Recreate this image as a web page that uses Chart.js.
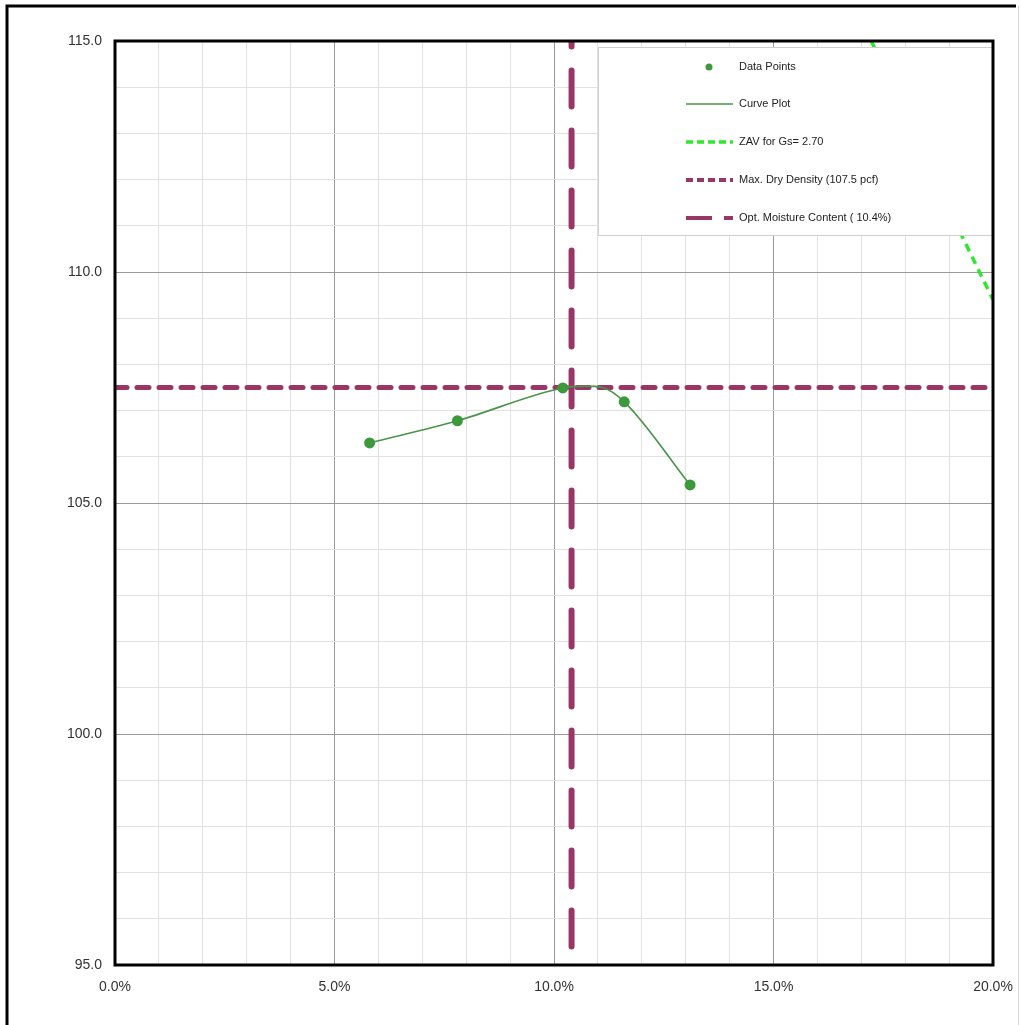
<!DOCTYPE html>
<html>
<head>
<meta charset="utf-8">
<script src="https://cdn.jsdelivr.net/npm/chart.js@4.4.1/dist/chart.umd.min.js"></script>
<style>
  html, body { margin: 0; padding: 0; background: #fff; }
  #wrap { width: 1021px; height: 1025px; position: relative; }
</style>
</head>
<body>
<div id="wrap"><canvas id="proctor"></canvas></div>
<script>
/* ─── Werte ─── */
const moisture = [5.8, 7.8, 10.2, 11.6, 13.1];
const dryDensity = [106.3, 106.78, 107.49, 107.19, 105.39];

const curveMoisture = [5.8, 7.8, 10.2, 10.7, 11.1, 11.6, 13.1];
const curveDensity = [106.3, 106.78, 107.49, 107.53, 107.5, 107.19, 105.39];

const zavMoisture = [17.23, 17.5, 18, 19, 20];
const zavDensity = [115, 114.42, 113.38, 111.35, 109.4];

const maxDryMoisture = [0, 20];
const maxDryDensity = [107.5, 107.5];

const optMoisture = [10.4, 10.4];
const optDensity = [95.4, 115];

const xTicks = [0, 5, 10, 15, 20];
const yTicks = [95, 100, 105, 110, 115];

const legendLabels = [
  'Data Points',
  'Curve Plot',
  'ZAV for Gs= 2.70',
  'Max. Dry Density (107.5 pcf)',
  'Opt. Moisture Content ( 10.4%)',
];

const MAROON = '#9a3666';
const toXY = (xs, ys) => xs.map((x, i) => ({ x, y: ys[i] }));

/* ─── Legende im Plotbereich + Rahmen ─── */
const frameLegend = {
  id: 'frameLegend',
  afterDatasetsDraw(chart) {
    const { ctx, chartArea: a } = chart;
    const bx = 598, by = a.top + 6, bw = a.right - 598, bh = 188;
    ctx.save();
    ctx.fillStyle = '#fff';
    ctx.fillRect(bx, by, bw, bh);
    ctx.strokeStyle = '#cfcfcf';
    ctx.lineWidth = 1;
    ctx.strokeRect(bx + 0.5, by + 0.5, bw, bh);

    const rows = [67, 104, 142, 180, 218];
    const x0 = 686, x1 = 733;
    ctx.lineCap = 'butt';
    chart.data.datasets.forEach((ds, i) => {
      const y = rows[i];
      ctx.setLineDash([]);
      if (i === 0) {
        ctx.fillStyle = ds.backgroundColor;
        ctx.beginPath(); ctx.arc(709, y, 3.5, 0, Math.PI * 2); ctx.fill();
      } else {
        ctx.strokeStyle = ds.borderColor;
        ctx.lineWidth = Math.min(ds.borderWidth, 4);
        if (i === 2 || i === 3) ctx.setLineDash([7, 4]);
        ctx.beginPath();
        if (i === 4) {
          ctx.moveTo(x0, y); ctx.lineTo(712, y);
          ctx.moveTo(724, y); ctx.lineTo(x1, y);
        } else {
          ctx.moveTo(x0, y); ctx.lineTo(x1, y);
        }
        ctx.stroke();
      }
      ctx.setLineDash([]);
      ctx.fillStyle = '#222';
      ctx.font = '11px "Liberation Sans", Arial, sans-serif';
      ctx.textBaseline = 'middle';
      ctx.textAlign = 'left';
      ctx.fillText(ds.label, 739, y);
    });
    ctx.restore();
  },
  afterDraw(chart) {
    const { ctx, chartArea: a } = chart;
    ctx.save();
    ctx.strokeStyle = '#000';
    ctx.lineWidth = 3;
    ctx.strokeRect(a.left, a.top, a.right - a.left, a.bottom - a.top);
    // äußerer Rahmen
    ctx.beginPath();
    ctx.moveTo(7, 1025); ctx.lineTo(7, 6); ctx.lineTo(1016, 6);
    ctx.stroke();
    ctx.strokeStyle = '#d8d8d8';
    ctx.lineWidth = 1;
    ctx.beginPath(); ctx.moveTo(1018.5, 6); ctx.lineTo(1018.5, 1025); ctx.stroke();
    ctx.restore();
  },
};

const tickFont = { family: '"Liberation Sans", Arial, sans-serif', size: 14 };

new Chart(document.getElementById('proctor').getContext('2d'), {
  type: 'scatter',
  data: {
    datasets: [
      { label: legendLabels[0], data: toXY(moisture, dryDensity),
        backgroundColor: '#3c9a3c', borderColor: '#3c9a3c',
        pointRadius: 5.5, pointBorderWidth: 0, showLine: false, order: 0 },
      { label: legendLabels[1], data: toXY(curveMoisture, curveDensity),
        borderColor: '#4a944a', backgroundColor: '#4a944a', borderWidth: 1.6,
        pointRadius: 0, showLine: true, cubicInterpolationMode: 'monotone', order: 1 },
      { label: legendLabels[2], data: toXY(zavMoisture, zavDensity),
        borderColor: '#2ee82e', backgroundColor: '#2ee82e', borderWidth: 3.5,
        borderDash: [8, 6], pointRadius: 0, showLine: true, order: 4 },
      { label: legendLabels[3], data: toXY(maxDryMoisture, maxDryDensity),
        borderColor: MAROON, backgroundColor: MAROON, borderWidth: 5,
        borderDash: [12, 10], borderCapStyle: 'round', pointRadius: 0, showLine: true, order: 3 },
      { label: legendLabels[4], data: toXY(optMoisture, optDensity),
        borderColor: MAROON, backgroundColor: MAROON, borderWidth: 6,
        borderDash: [36, 24], borderCapStyle: 'round', pointRadius: 0, showLine: true, order: 2 },
    ],
  },
  options: {
    responsive: true, maintainAspectRatio: false,
    animation: false,
    layout: { padding: { left: 0, top: 41, right: 28, bottom: 0 } },
    plugins: { legend: { display: false }, tooltip: { enabled: false } },
    scales: {
      x: {
        type: 'linear', min: 0, max: 20,
        afterFit: s => { s.height = 60; s.paddingRight = 0; },
        afterBuildTicks: s => {
          s.ticks = Array.from({ length: 21 }, (_, i) => ({ value: i }));
        },
        grid: {
          drawTicks: false,
          color: c => (xTicks.includes(c.tick.value) ? '#9a9a9a' : '#e2e2e2'),
          lineWidth: 1,
        },
        border: { display: false },
        ticks: {
          autoSkip: false, maxRotation: 0, padding: 14, color: '#333', font: tickFont,
          callback: v => (xTicks.includes(v) ? v.toFixed(1) + '%' : ''),
        },
      },
      y: {
        type: 'linear', min: 95, max: 115,
        afterFit: s => { s.width = 115; },
        afterBuildTicks: s => {
          s.ticks = Array.from({ length: 21 }, (_, i) => ({ value: 95 + i }));
        },
        grid: {
          drawTicks: false,
          color: c => (yTicks.includes(c.tick.value) ? '#9a9a9a' : '#e2e2e2'),
          lineWidth: 1,
        },
        border: { display: false },
        ticks: {
          autoSkip: false, padding: 13, color: '#333', font: tickFont,
          callback: v => (yTicks.includes(v) ? v.toFixed(1) : ''),
        },
      },
    },
  },
  plugins: [frameLegend],
});
</script>
</body>
</html>
